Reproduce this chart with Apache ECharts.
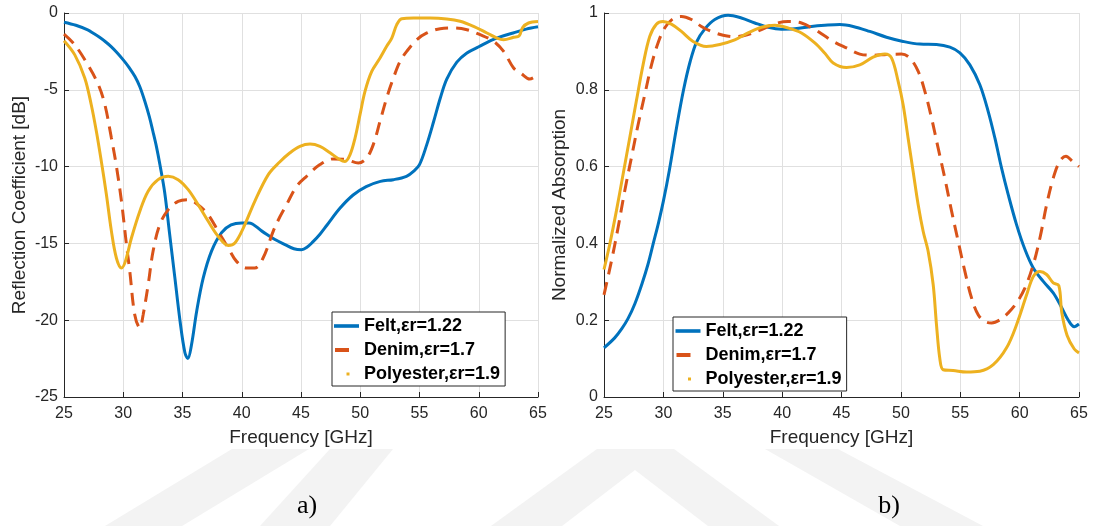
<!DOCTYPE html>
<html>
<head>
<meta charset="utf-8">
<script src="https://cdn.jsdelivr.net/npm/echarts@6/dist/echarts.min.js"></script>
<style>
html,body{margin:0;padding:0;background:#fff;}
#c{width:1095px;height:526px;}
</style>
</head>
<body>
<div id="c"></div>
<script>
// ---------- data ----------
const seriesNames = ['Felt,εr=1.22', 'Denim,εr=1.7', 'Polyester,εr=1.9'];
const xTicksMin = 25, xTicksMax = 65, xTickStep = 5;

// (a) Reflection coefficient [dB]  — [frequency GHz, dB]
const feltRefl = [[25,-0.6],[26,-0.8],[27,-1.1],[27.5,-1.33],[28,-1.58],[28.5,-1.87],[29,-2.2],[29.5,-2.6],[30,-3.05],[30.5,-3.55],[31,-4.15],[31.4,-4.8],[31.8,-5.7],[32.2,-6.75],[32.5,-7.7],[32.8,-8.7],[33.1,-9.9],[33.5,-11.7],[33.9,-14.3],[34.35,-17.2],[34.8,-20.1],[35.2,-22.1],[35.45,-22.5],[35.76,-21.6],[36.2,-19.4],[36.75,-17.25],[37.45,-15.5],[38.3,-14.3],[39.1,-13.8],[40,-13.67],[40.6,-13.67],[41.7,-14.2],[42.8,-14.75],[43.7,-15.1],[44.4,-15.35],[45.05,-15.41],[45.5,-15.25],[46,-14.9],[46.6,-14.4],[47.2,-13.8],[48.3,-12.7],[49.4,-11.85],[50.5,-11.3],[51.7,-10.96],[52.8,-10.85],[53.9,-10.63],[54.5,-10.3],[55,-9.87],[55.6,-8.6],[56.2,-7.05],[56.75,-5.55],[57.3,-4.3],[58.15,-3.2],[59,-2.6],[60,-2.2],[61,-1.8],[61.8,-1.55],[62.9,-1.3],[64,-1.05],[65,-0.9]];
const denimRefl = [[25,-1.37],[25.9,-2.06],[27,-3.36],[27.9,-4.67],[28.45,-5.97],[29,-8.14],[29.4,-9.87],[29.85,-12.26],[30.27,-15.08],[30.55,-16.8],[30.97,-19.64],[31.4,-20.5],[31.68,-19.64],[32.1,-17.7],[32.52,-15.5],[33.08,-13.78],[33.8,-12.8],[34.63,-12.26],[35.48,-12.15],[36.3,-12.48],[37.17,-13.13],[38,-14.2],[38.86,-15.3],[39.56,-16.17],[40.4,-16.6],[41.1,-16.6],[41.8,-15.95],[42.66,-14.2],[43.2,-13.3],[43.78,-12.48],[44.63,-11.28],[45.47,-10.63],[46.6,-9.87],[47.73,-9.5],[48.85,-9.55],[49.84,-9.77],[50.54,-9.44],[51.1,-8.57],[51.67,-7.05],[52.23,-5.53],[52.8,-4.23],[53.36,-3.15],[53.92,-2.5],[54.77,-1.74],[55.62,-1.3],[56.74,-1.02],[57.87,-0.98],[59,-1.09],[60.12,-1.41],[61.25,-1.84],[62.1,-2.5],[62.94,-3.58],[63.6,-3.95],[64.3,-4.3],[65,-4.0]];
const polyRefl = [[25,-1.8],[25.9,-2.71],[26.75,-4.23],[27.3,-5.97],[27.73,-7.7],[28.15,-9.66],[28.58,-11.83],[29,-14.2],[29.42,-15.95],[29.85,-16.6],[30.18,-16.17],[30.69,-14.65],[31.4,-12.9],[32.1,-11.6],[32.94,-10.85],[33.79,-10.63],[34.63,-10.85],[35.48,-11.5],[36.32,-12.48],[37.17,-13.56],[38.01,-14.54],[38.86,-15.13],[39.42,-14.97],[40.13,-14.0],[41.1,-12.26],[42.24,-10.52],[43.2,-9.7],[44.07,-9.1],[44.91,-8.68],[45.76,-8.53],[46.6,-8.68],[47.45,-9.1],[48.29,-9.55],[48.71,-9.66],[49.14,-9.22],[49.56,-8.14],[49.98,-6.62],[50.4,-5.1],[50.97,-3.8],[51.67,-2.93],[52.23,-2.17],[52.66,-1.63],[53.08,-0.76],[53.5,-0.37],[54.49,-0.33],[55.9,-0.33],[57.3,-0.39],[58.43,-0.54],[59.56,-0.87],[60.69,-1.3],[61.53,-1.63],[62.1,-1.74],[62.94,-1.58],[63.4,-1.5],[63.7,-0.95],[64.2,-0.65],[65,-0.55]];

// (b) Normalized absorption — [frequency GHz, value]
const feltAbs = [[25,0.128],[25.9,0.154],[26.5,0.178],[27.02,0.204],[27.6,0.243],[28.2,0.295],[28.7,0.345],[29.15,0.4],[29.6,0.455],[30,0.51],[30.5,0.59],[31.1,0.7],[31.7,0.8],[32.25,0.873],[32.8,0.925],[33.48,0.958],[34.33,0.983],[35.45,0.994],[36.57,0.987],[37.7,0.974],[38.82,0.963],[39.94,0.958],[41.07,0.959],[42.47,0.965],[43.6,0.968],[44.86,0.97],[45.98,0.965],[47.38,0.952],[48.79,0.937],[50.19,0.926],[51.6,0.919],[53,0.918],[54.13,0.911],[54.97,0.896],[55.81,0.865],[56.65,0.813],[57.35,0.744],[57.92,0.674],[58.48,0.596],[59.04,0.527],[59.74,0.449],[60.45,0.384],[61.15,0.336],[61.99,0.301],[62.83,0.271],[63.5,0.235],[64.1,0.2],[64.6,0.183],[65,0.19]];
const denimAbs = [[25,0.266],[25.62,0.353],[26.18,0.44],[26.74,0.536],[27.3,0.622],[27.87,0.709],[28.43,0.787],[29,0.865],[29.55,0.922],[30.11,0.961],[30.81,0.985],[31.52,0.991],[32.36,0.983],[33.2,0.965],[34.04,0.952],[35.03,0.942],[36.01,0.938],[37.13,0.944],[38.26,0.957],[39.38,0.972],[40.5,0.978],[41.63,0.974],[42.75,0.957],[43.6,0.94],[44.3,0.926],[45.42,0.909],[46.54,0.893],[47.66,0.89],[48.79,0.892],[50.05,0.893],[50.75,0.883],[51.46,0.848],[52.02,0.796],[52.58,0.727],[53.14,0.648],[53.7,0.57],[54.27,0.484],[54.83,0.405],[55.39,0.327],[55.95,0.258],[56.51,0.214],[57.07,0.197],[57.64,0.193],[58.34,0.201],[59.04,0.219],[59.74,0.245],[60.45,0.284],[61.15,0.345],[61.71,0.414],[62.27,0.5],[62.83,0.57],[63.4,0.615],[63.9,0.627],[64.5,0.612],[65,0.6]];
const polyAbs = [[25,0.332],[25.48,0.397],[26.04,0.484],[26.6,0.579],[27.16,0.674],[27.72,0.77],[28.29,0.865],[28.85,0.939],[29.41,0.971],[29.97,0.978],[30.67,0.971],[31.52,0.952],[32.5,0.926],[33.62,0.913],[34.75,0.918],[36.01,0.93],[37.13,0.948],[38.26,0.963],[39.38,0.968],[40.5,0.961],[41.63,0.948],[42.75,0.922],[43.6,0.895],[44.3,0.87],[45.42,0.858],[46.54,0.865],[47.66,0.885],[48.65,0.893],[49.21,0.883],[49.77,0.822],[50.19,0.761],[50.61,0.674],[51.03,0.588],[51.46,0.5],[51.88,0.431],[52.3,0.379],[52.72,0.293],[53,0.188],[53.28,0.1],[53.56,0.071],[54.4,0.069],[55.53,0.065],[56.65,0.067],[57.78,0.084],[58.9,0.128],[59.74,0.188],[60.59,0.266],[61.15,0.314],[61.71,0.327],[62.27,0.319],[62.83,0.297],[63.3,0.29],[63.55,0.22],[64,0.16],[64.6,0.125],[65,0.115]];

// ---------- styling ----------
const COLORS = ['#0072BD', '#D95319', '#EDB120'];
const AX = '#262626';
const GRIDC = '#e0e0e0';
const FONT = '"Liberation Sans", Arial, Helvetica, sans-serif';

function xAxisCfg(gi) {
  return {
    type: 'value', gridIndex: gi, min: xTicksMin, max: xTicksMax, interval: xTickStep,
    name: 'Frequency [GHz]', nameLocation: 'middle', nameGap: 31,
    nameTextStyle: { fontSize: 19, color: AX, fontFamily: FONT, lineHeight: 19 },
    axisLine: { show: true, onZero: false, lineStyle: { color: AX, width: 1 } },
    axisTick: { show: true, inside: true, length: 5, lineStyle: { color: AX, width: 1 } },
    axisLabel: { fontSize: 16, color: AX, fontFamily: FONT, margin: 9, lineHeight: 16 },
    splitLine: { show: true, lineStyle: { color: GRIDC, width: 1 } }
  };
}
function yAxisCfg(gi, name, min, max, step) {
  return {
    type: 'value', gridIndex: gi, min: min, max: max, interval: step,
    name: name, nameLocation: 'middle', nameGap: 35,
    nameTextStyle: { fontSize: 19, color: AX, fontFamily: FONT, lineHeight: 19 },
    axisLine: { show: true, onZero: false, lineStyle: { color: AX, width: 1 } },
    axisTick: { show: true, inside: true, length: 5, lineStyle: { color: AX, width: 1 } },
    axisLabel: { fontSize: 16, color: AX, fontFamily: FONT, margin: 6 },
    splitLine: { show: true, lineStyle: { color: GRIDC, width: 1 } }
  };
}
function lineSeries(name, data, gi, idx) {
  return {
    name: name, type: 'line', xAxisIndex: gi, yAxisIndex: gi, data: data,
    showSymbol: false, symbol: 'none', smooth: 0.35, animation: false,
    lineStyle: { color: COLORS[idx], width: 3, type: idx === 1 ? [13, 8] : 'solid', cap: 'butt' },
    itemStyle: { color: COLORS[idx] }, z: 3 + idx
  };
}
const ICONS = [
  'path://M0,0M25,14M0,5.2L25,5.2L25,8.8L0,8.8Z',
  'path://M0,0M25,14M1,5L15,5L15,9L1,9Z',
  'path://M0,0M25,14M12.5,5.5L15.5,5.5L15.5,8.5L12.5,8.5Z'
];
function legendCfg(left, top, padL) {
  return {
    left: left, top: top, orient: 'vertical', itemGap: 4, itemWidth: 25, itemHeight: 14,
    padding: [4, 5, 2, padL], backgroundColor: '#fff', borderColor: '#262626', borderWidth: 1,
    borderRadius: 0, selectedMode: false,
    itemStyle: { borderWidth: 0 },
    textStyle: { fontSize: 18, fontWeight: 'bold', color: '#000', fontFamily: FONT, lineHeight: 20 },
    data: seriesNames.map((n, i) => ({ name: n, icon: ICONS[i] }))
  };
}

// faint background watermark stripes (below the plots)
const wm = [
  [[232,449],[309,449],[182,526],[105,526]],
  [[330,449],[393,449],[330,526],[260,526]],
  [[597,449],[674,449],[779,526],[708,526],[635,470],[562,526],[491,526]],
  [[765,449],[838,449],[983,526],[900,526]]
];

const chart = echarts.init(document.getElementById('c'), null, { renderer: 'canvas' });
chart.setOption({
  animation: false,
  backgroundColor: '#fff',
  grid: [
    { left: 64, top: 13, width: 474, height: 384, outerBoundsMode: 'none', containLabel: false },
    { left: 604, top: 13, width: 475, height: 384, outerBoundsMode: 'none', containLabel: false }
  ],
  xAxis: [xAxisCfg(0), xAxisCfg(1)],
  yAxis: [
    yAxisCfg(0, 'Reflection Coefficient [dB]', -25, 0, 5),
    yAxisCfg(1, 'Normalized Absorption', 0, 1, 0.2)
  ],
  legend: [legendCfg(332, 312, 2), legendCfg(673, 317, 2.5)],
  series: [
    lineSeries(seriesNames[0], feltRefl, 0, 0),
    lineSeries(seriesNames[1], denimRefl, 0, 1),
    lineSeries(seriesNames[2], polyRefl, 0, 2),
    lineSeries(seriesNames[0], feltAbs, 1, 0),
    lineSeries(seriesNames[1], denimAbs, 1, 1),
    lineSeries(seriesNames[2], polyAbs, 1, 2)
  ],
  graphic: [
    ...wm.map(p => ({ type: 'polygon', z: -10, silent: true, shape: { points: p }, style: { fill: '#f3f3f3' } })),
    { type: 'text', x: 307, y: 506, z: 10, style: { text: 'a)', font: '26px "Liberation Serif", "Times New Roman", serif', fill: '#000', textAlign: 'center', textVerticalAlign: 'middle' } },
    { type: 'text', x: 889, y: 506, z: 10, style: { text: 'b)', font: '26px "Liberation Serif", "Times New Roman", serif', fill: '#000', textAlign: 'center', textVerticalAlign: 'middle' } }
  ]
});
</script>
</body>
</html>
